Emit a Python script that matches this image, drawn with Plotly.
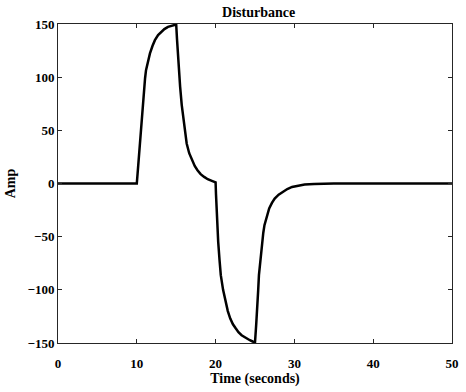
import plotly.graph_objects as go

# Values
time_s = [0, 10.0, 10.15, 10.3, 10.45, 10.55, 10.75, 10.92, 11.05, 11.17, 11.4, 11.67, 12.0,
          12.3, 12.7, 13.12, 13.5, 13.96, 14.5, 15.0,
          15.1, 15.2, 15.35, 15.5, 15.7, 15.92, 16.1, 16.33, 16.65, 17.0, 17.35, 17.7,
          18.1, 18.55, 19.0, 19.6, 20.0,
          20.05, 20.12, 20.22, 20.33, 20.5, 20.66, 20.95, 21.24, 21.55, 21.86, 22.2,
          22.57, 22.9, 23.3, 23.8, 24.35, 24.7, 25.0,
          25.15, 25.3, 25.4, 25.5, 25.7, 25.9, 26.05, 26.2, 26.5, 26.8, 27.15, 27.5,
          28.0, 28.5, 29.1, 29.7, 30.5, 31.3, 32.5, 34.0, 35.0, 50.0]
amp = [0, 0, 14, 28.2, 47, 59.5, 77, 90.9, 99, 106.6, 115, 122.3, 129.5,
       134.8, 139.5, 142.6, 145.2, 147.3, 148.8, 149.5,
       136, 122.3, 106, 90.9, 74, 59.5, 49, 37.6, 28.5, 21.9, 16.5, 12.5,
       8.8, 6.2, 4.0, 2.2, 1.0,
       -10, -23.5, -39, -54.9, -72, -86.2, -100, -111.3, -120, -127, -132.4,
       -136.4, -139.8, -142.7, -145.3, -147.4, -148.6, -149.5,
       -133, -117.6, -101, -86.2, -70, -54.9, -46.5, -39.2, -30.5, -23.5, -18.3, -14.1,
       -10.5, -7.9, -5.2, -3.2, -1.9, -1.0, -0.4, -0.1, 0, 0]

x_ticks = [0, 10, 20, 30, 40, 50]
y_ticks = [-150, -100, -50, 0, 50, 100, 150]

font_family = "Liberation Serif, Times New Roman, serif"
axis_color = "#262626"

fig = go.Figure()
fig.add_trace(go.Scatter(x=time_s, y=amp, mode="lines",
                         line=dict(color="black", width=2.5),
                         showlegend=False))

fig.update_layout(
    width=466, height=392,
    margin=dict(l=58, r=7, t=24, b=49),
    paper_bgcolor="white", plot_bgcolor="white",
    font=dict(family=font_family, size=13, color="black", weight="bold"),
    title=dict(text="Disturbance", x=0.555, xanchor="center", y=0.97, yanchor="middle",
               font=dict(family=font_family, size=14, color="black", weight="bold")),
)
fig.update_xaxes(
    range=[0, 50], tickvals=x_ticks,
    ticks="inside", ticklen=4, tickcolor=axis_color, showline=True, linecolor=axis_color,
    linewidth=1, mirror="ticks", showgrid=False, zeroline=False, ticklabelstandoff=8,
    title=dict(text="Time (seconds)", font=dict(family=font_family, size=14, weight="bold"), standoff=2),
    tickfont=dict(family=font_family, size=13, color="black", weight="bold"),
)
fig.update_yaxes(
    range=[-150, 150], tickvals=y_ticks,
    ticks="inside", ticklen=4, tickcolor=axis_color, showline=True, linecolor=axis_color,
    linewidth=1, mirror="ticks", showgrid=False, zeroline=False,
    title=dict(text="Amp", font=dict(family=font_family, size=14, weight="bold"), standoff=8),
    tickfont=dict(family=font_family, size=13, color="black", weight="bold"),
)

fig.write_html("out.html")
